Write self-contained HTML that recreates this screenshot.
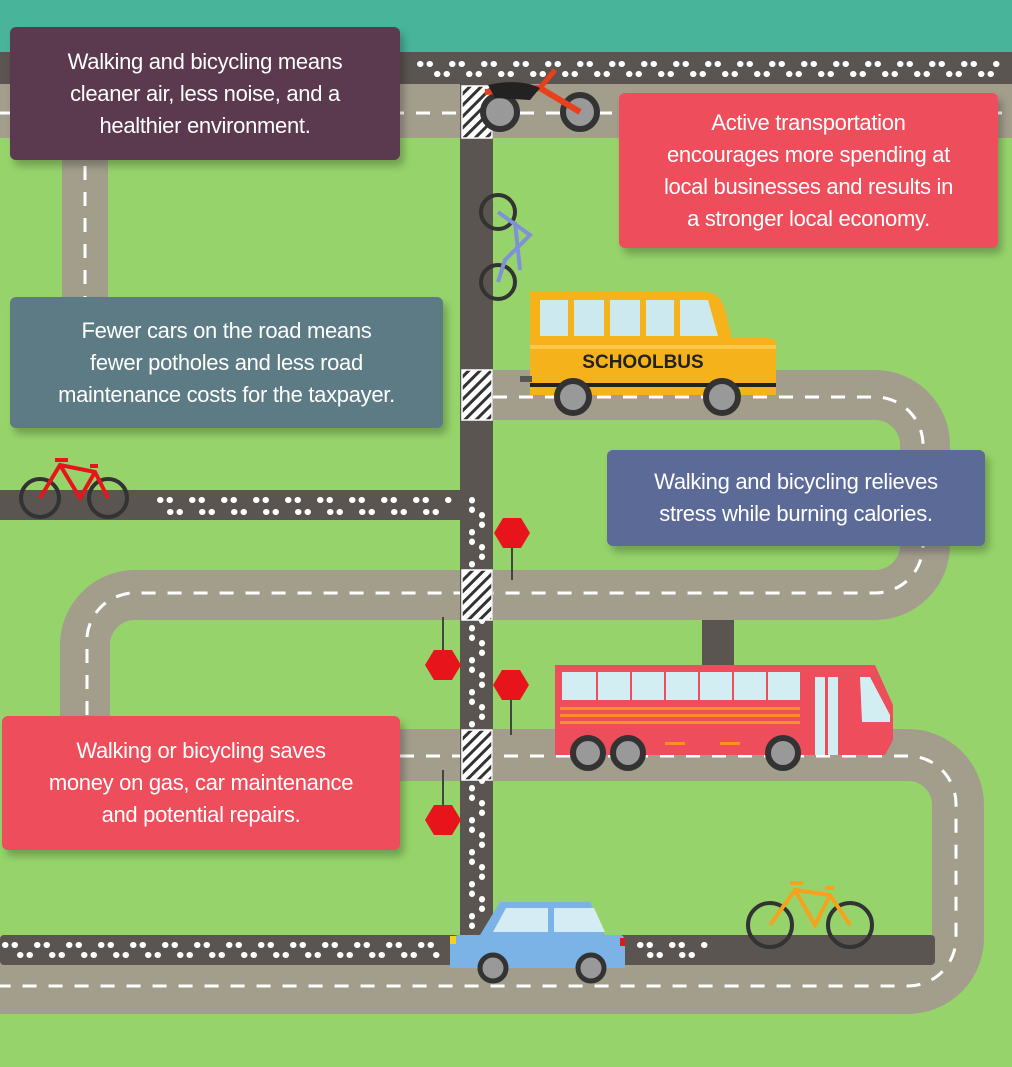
<!DOCTYPE html>
<html><head><meta charset="utf-8"><style>
html,body{margin:0;padding:0;width:1012px;height:1067px;overflow:hidden;background:#96d46b}
svg{position:absolute;left:0;top:0}
.box{position:absolute;color:#fff;font-family:"Liberation Sans",sans-serif;font-size:22px;line-height:32px;text-align:center;border-radius:6px;box-shadow:4px 6px 8px rgba(0,0,0,.25);display:flex;align-items:center;justify-content:center;letter-spacing:-0.3px}
</style></head><body>
<svg width="1012" height="1067" viewBox="0 0 1012 1067">
<defs>
<pattern id="cw" width="8" height="8" patternUnits="userSpaceOnUse" patternTransform="rotate(45)"><rect width="8" height="8" fill="#fff"/><rect width="3" height="8" fill="#333"/></pattern>
</defs>
<rect x="0" y="0" width="1012" height="52" fill="#48b59a"/>
<g fill="none" stroke="#a39e8c" stroke-linejoin="round">
<path d="M0 111 H1012" stroke-width="54"/>
<path d="M85 111 V300" stroke-width="46"/>
<path d="M493 395 H875 A50 50 0 0 1 925 445 V545 A50 50 0 0 1 875 595 H135 A50 50 0 0 0 85 645 V740" stroke-width="50"/>
<path d="M400 755 H908 A50 50 0 0 1 958 805 V938 A50 50 0 0 1 908 988 H0" stroke-width="52"/>
</g>
<g fill="none" stroke="#fff" stroke-width="3" stroke-dasharray="14 12">
<path d="M0 113 H1012"/>
<path d="M85 140 V300"/>
<path d="M493 397 H875 A48 48 0 0 1 923 445 V545 A48 48 0 0 1 875 593 H135 A48 48 0 0 0 87 645 V740"/>
<path d="M400 756 H908 A48 48 0 0 1 956 805 V938 A48 48 0 0 1 908 986 H0"/>
</g>
<g fill="#5a5550">
<rect x="0" y="52" width="1012" height="32"/>
<rect x="0" y="490" width="476" height="30"/>
<rect x="460" y="84" width="33" height="870"/>
<rect x="0" y="935" width="935" height="30" rx="4"/>
</g>
<g fill="none" stroke="#fff" stroke-width="6" stroke-linecap="round" stroke-dasharray="0.5 9 0.5 22">
<path d="M420 64 H1000"/><path d="M437 74 H1000"/>
<path d="M160 500 H450"/><path d="M170 512 H450"/>
<path d="M472 500 V930"/><path d="M482 515 V930"/>
<path d="M5 945 H445"/><path d="M20 955 H445"/>
<path d="M640 945 H710"/><path d="M650 955 H710"/>
</g>
<g fill="url(#cw)" stroke="#fff" stroke-width="1.5">
<rect x="462" y="86" width="30" height="52"/>
<rect x="462" y="370" width="30" height="50"/>
<rect x="462" y="570" width="30" height="50"/>
<rect x="462" y="730" width="30" height="50"/>
</g>
<g fill="#e8141c">
<line x1="512" y1="540" x2="512" y2="580" stroke="#444" stroke-width="2"/>
<polygon points="503,518 521,518 530,533 521,548 503,548 494,533"/>
<line x1="443" y1="617" x2="443" y2="660" stroke="#444" stroke-width="2"/>
<polygon points="434,650 452,650 461,665 452,680 434,680 425,665"/>
<line x1="511" y1="700" x2="511" y2="735" stroke="#444" stroke-width="2"/>
<polygon points="502,670 520,670 529,685 520,700 502,700 493,685"/>
<line x1="443" y1="770" x2="443" y2="810" stroke="#444" stroke-width="2"/>
<polygon points="434,805 452,805 461,820 452,835 434,835 425,820"/>
</g>
<g>
<circle cx="500" cy="112" r="17" fill="#999" stroke="#333" stroke-width="6"/>
<circle cx="580" cy="112" r="17" fill="#999" stroke="#333" stroke-width="6"/>
<path d="M485 92 L540 88 L560 100 L580 112" stroke="#e8401c" stroke-width="6" fill="none"/>
<path d="M488 85 Q520 78 540 88 L530 100 L495 98 Z" fill="#222"/>
<path d="M540 88 L555 70" stroke="#e8401c" stroke-width="5"/>
</g>
<g fill="none">
<circle cx="498" cy="212" r="17" stroke="#333" stroke-width="4"/>
<circle cx="498" cy="282" r="17" stroke="#333" stroke-width="4"/>
<path d="M498 212 L530 235 L505 260 L498 282 M515 222 L520 270" stroke="#7f92d6" stroke-width="4"/>
</g>
<g fill="none">
<circle cx="40" cy="498" r="19" stroke="#333" stroke-width="4"/>
<circle cx="108" cy="498" r="19" stroke="#333" stroke-width="4"/>
<path d="M40 498 L60 465 L95 472 L108 498 M60 465 L80 498 L95 472 M55 460 L68 460 M90 466 L98 466" stroke="#e8141c" stroke-width="4"/>
</g>
<g fill="none">
<circle cx="770" cy="925" r="22" stroke="#333" stroke-width="4"/>
<circle cx="850" cy="925" r="22" stroke="#333" stroke-width="4"/>
<path d="M770 925 L795 890 L830 895 L850 925 M795 890 L815 925 L830 895 M790 883 L803 883 M825 888 L834 888" stroke="#f6a21c" stroke-width="4"/>
</g>
<g>
<path d="M530 292 H705 Q720 292 725 310 L732 338 H770 Q776 338 776 346 V395 H530 Z" fill="#f6b21b"/>
<rect x="530" y="345" width="246" height="4" fill="#f9c84a"/>
<rect x="530" y="383" width="246" height="4" fill="#222"/>
<rect x="520" y="376" width="12" height="6" fill="#555"/>
<g fill="#cbe9ee"><rect x="540" y="300" width="28" height="36"/><rect x="574" y="300" width="30" height="36"/><rect x="610" y="300" width="30" height="36"/><rect x="646" y="300" width="28" height="36"/><path d="M680 300 H708 L718 336 H680 Z"/></g>
<text x="643" y="368" font-family="Liberation Sans Narrow,Liberation Sans,sans-serif" font-weight="bold" font-size="19" fill="#222" text-anchor="middle">SCHOOLBUS</text>
<circle cx="573" cy="397" r="16" fill="#999" stroke="#333" stroke-width="6"/>
<circle cx="722" cy="397" r="16" fill="#999" stroke="#333" stroke-width="6"/>
</g>
<g>
<rect x="702" y="620" width="32" height="45" fill="#5a5550"/>
<path d="M555 665 H875 L893 705 V740 L885 755 H555 Z" fill="#ee4d5b"/>
<g fill="#d3eef3"><rect x="562" y="672" width="34" height="28"/><rect x="598" y="672" width="32" height="28"/><rect x="632" y="672" width="32" height="28"/><rect x="666" y="672" width="32" height="28"/><rect x="700" y="672" width="32" height="28"/><rect x="734" y="672" width="32" height="28"/><rect x="768" y="672" width="32" height="28"/>
<rect x="815" y="677" width="10" height="78"/><rect x="828" y="677" width="10" height="78"/><path d="M860 677 H870 L890 715 V722 H862 Z"/></g>
<g fill="#f69221"><rect x="560" y="707" width="240" height="3"/><rect x="560" y="714" width="240" height="3"/><rect x="560" y="721" width="240" height="3"/><rect x="665" y="742" width="20" height="3"/><rect x="720" y="742" width="20" height="3"/></g>
<circle cx="588" cy="753" r="15" fill="#999" stroke="#333" stroke-width="6"/>
<circle cx="628" cy="753" r="15" fill="#999" stroke="#333" stroke-width="6"/>
<circle cx="783" cy="753" r="15" fill="#999" stroke="#333" stroke-width="6"/>
</g>
<g>
<path d="M500 902 H590 L605 935 H620 Q625 935 625 945 V968 H450 V945 Q450 935 460 935 H480 Z" fill="#7cb3e6"/>
<path d="M506 908 H548 V932 H493 Z M554 908 H594 L605 932 H554 Z" fill="#d6ecf5"/>
<rect x="450" y="936" width="6" height="8" fill="#f3d21b"/><rect x="620" y="938" width="5" height="8" fill="#e8141c"/>
<circle cx="493" cy="968" r="13" fill="#999" stroke="#333" stroke-width="5"/>
<circle cx="591" cy="968" r="13" fill="#999" stroke="#333" stroke-width="5"/>
</g>
</svg>
<div class="box" style="left:10px;top:27px;width:390px;height:133px;background:#5b3a50">Walking and bicycling means<br>cleaner air, less noise, and a<br>healthier environment.</div>
<div class="box" style="left:619px;top:93px;width:379px;height:155px;background:#ee4d5b">Active transportation<br>encourages more spending at<br>local businesses and results in<br>a stronger local economy.</div>
<div class="box" style="left:10px;top:297px;width:433px;height:131px;background:#5d7b85">Fewer cars on the road means<br>fewer potholes and less road<br>maintenance costs for the taxpayer.</div>
<div class="box" style="left:607px;top:450px;width:378px;height:96px;background:#5c6a97">Walking and bicycling relieves<br>stress while burning calories.</div>
<div class="box" style="left:2px;top:716px;width:398px;height:134px;background:#ee4d5b">Walking or bicycling saves<br>money on gas, car maintenance<br>and potential repairs.</div>
</body></html>
